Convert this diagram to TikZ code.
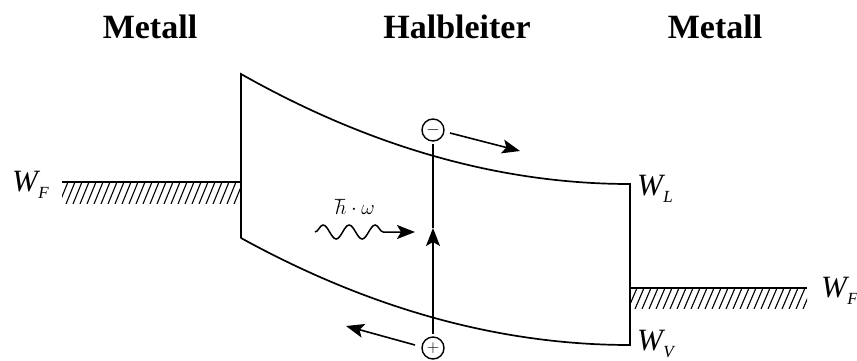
\documentclass[tikz,border=0pt]{standalone}
\usepackage{fontspec}
\setmainfont{Liberation Serif}
\usetikzlibrary{arrows.meta,decorations.pathmorphing}
\newcommand\Wlab[1]{\textit{W}\kern-2pt\raisebox{-0.25em}{\fontsize{17}{17}\selectfont\textit{#1}}}
\begin{document}
\begin{tikzpicture}[x=1pt,y=-1pt,
  band/.style={line width=1.7pt},
  titletext/.style={font=\fontsize{34}{36}\selectfont\bfseries, anchor=base, inner sep=0pt},
  lvl/.style={font=\fontsize{31}{31}\selectfont, anchor=base west, inner sep=0pt},
  carrier/.style={circle, draw, line width=1.4pt, minimum size=22pt, inner sep=0pt, font=\fontsize{16}{16}\selectfont},
  arr/.style={-{Stealth[length=18pt,width=14pt,inset=4pt]}, line width=1.6pt},
  hatch/.style={line width=1.1pt},
  metal/.style={line width=2pt}]
\useasboundingbox (0,0) rectangle (857,360);

% titles
\node[titletext] (t1) at (150,38) {Metall};
\node[titletext] (t2) at (457,38) {Halbleiter};
\node[titletext] (t3) at (715,38) {Metall};

% left metal
\begin{scope}
  \clip (62,182) rectangle (241,203);
  \foreach \x in {52,59,...,248} \draw[hatch] (\x,204) -- (\x+9,182);
\end{scope}
\draw[metal] (62,182) -- (241,182);

% right metal
\begin{scope}
  \clip (630,288) rectangle (807,308);
  \foreach \x in {621,628,...,815} \draw[hatch] (\x,309) -- (\x+9,288);
\end{scope}
\draw[metal] (630,288) -- (807,288);

% band
\draw[band] (241,238) -- (241,74) .. controls (370.7,147.3) and (500.3,184) .. (630,184)
  -- (630,345) .. controls (500.3,345) and (370.7,309.3) .. (241,238);

% level labels
\node[lvl] (wfl) at (12,191) {\Wlab{F}};
\node[lvl] (wl) at (637,195) {\Wlab{L}};
\node[lvl] (wv) at (637,350) {\Wlab{V}};
\node[lvl] (wfr) at (821,297) {\Wlab{F}};

% carriers
\node[carrier] (el) at (433,130) {$-$};
\node[carrier] (ho) at (433,348) {$+$};
\coordinate (vtip) at (433,228);
\draw[arr, shorten <=2pt] (ho) -- (vtip);
\draw[line width=1.6pt, shorten >=2pt] (vtip) -- (el);

\coordinate (ea1) at (450,133);
\coordinate (ea2) at (520,151);
\draw[arr] (ea1) -- (ea2);
\coordinate (ha1) at (415,345);
\coordinate (ha2) at (346,326);
\draw[arr] (ha1) -- (ha2);

% photon
\node[font=\fontsize{20}{20}\selectfont, inner sep=0pt] (hw) at (355,207) {$\hbar\cdot\omega$};
\coordinate (w1) at (315,232);
\coordinate (w2) at (415,232);
\draw[arr, line width=1.5pt, decorate, decoration={snake, segment length=26pt, amplitude=7pt, post length=24pt}] (w1) -- (w2);
\end{tikzpicture}
\end{document}
